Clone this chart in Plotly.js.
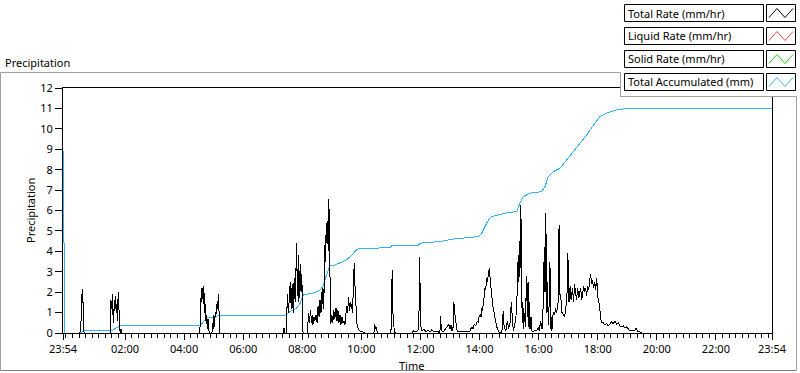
<!DOCTYPE html>
<html><head><meta charset="utf-8">
<script src="https://cdn.plot.ly/plotly-3.0.1.min.js"></script>
<style>html,body{margin:0;padding:0;background:#fff;}#chart{width:800px;height:373px;}
#chart .scatterlayer path.js-line{shape-rendering:crispEdges;}</style>
</head><body><div id="chart"></div>
<script>
// time = minutes after 00:00 (axis starts 23:54 the day before = -6)
const totalRate = [
[-6,0],[28,0],[30,0.2],[31,1.4],[32,1.6],[33,2.15],[34,1.5],[35,1.5],[36,0.1],[37,0],
[90,0],[91,1.6],[93,1.2],[94,1.9],[95.5,0.9],[97,0.5],[98,1.6],[99.5,1.1],[101,1.8],[102,1.0],[103.5,1.4],[105,0.6],[106,2.0],[107.5,0.8],[109,0.2],[110,0],[112,0.2],[113,0.15],[114,0],
[270.5,0],[272,0.1],[273.5,1.7],[275,2.2],[276,1.5],[277.5,2.2],[279,1.4],[280,2.3],[281.5,1.0],[283,1.4],[284,0.6],[285.5,0.9],[287,0.2],[288.5,0.7],[290,0.2],[291,0],[296.5,0],[298,0.5],[299,0.2],[300.5,0.9],[302,0.3],[303,1.0],[304.5,0.8],[306,1.4],[307.5,1.2],[308.5,1.5],[310,1.9],[311.5,0.5],[312,0],
[441.5,0],[443,0.25],[445,0],[448,0],[449.5,1.9],[451.5,1.0],[453.5,1.6],[455.5,2.5],[457.5,1.2],[459.5,2.4],[461.5,1.0],[463.5,2.7],[465.5,1.5],[467,3.2],[468.5,4.4],[470,1.8],[472,3.8],[473,1.5],[474.5,2.2],[476,3.4],[477.5,2.0],[478.5,2.9],[480,2.0],[481.5,0],
[490,0],[491.5,0.8],[493,1.0],[494,0.5],[495.5,0.7],[497,1.1],[498.5,0.5],[500,0.9],[501.5,0.4],[503.5,0.8],[505.5,0.6],[508,0.9],[510,0.5],[512,1.3],[514,0.8],[516,1.6],[518,1.0],[519.5,2.0],[520.5,1.4],[522,2.2],[523.5,1.2],[524.5,2.7],[526,4.3],[527.5,3.5],[528.5,5.4],[530,4.4],[531.5,5.5],[532.5,4.0],[534,6.55],[535.5,3.8],[537,0.85],[538,0.45],[540,0.9],[542,0.5],[544,1.1],[546,0.7],[548.5,1.2],[550.5,0.6],[552.5,1.1],[554.5,0.5],[556.5,0.9],[558.5,0.4],[560.5,0.8],[562.5,0.5],[564.5,0.6],[566.5,0.4],[570,1.3],[572,1.0],[574,1.75],[576,1.1],[578,1.5],[580,1.35],[582,1.0],[583.5,2.1],[585.5,3.45],[587.5,2.0],[589,1.0],[591.5,0.3],[594,0.2],[597,0.1],[604,0.05],[607,0],
[625.5,0],[627,0.45],[628.5,0.2],[630.5,0.3],[632.5,0],
[660,0],[661.5,1.2],[662.5,3.1],[664,1.0],[665.5,0.2],[667,0.05],[669,0],
[703,0],[705.5,0.1],[711,0.05],[715.5,0.15],[717,0.8],[718,3.7],[719,2.0],[721,0.3],[723,0.1],[727,0.2],[731,0.05],[735,0.15],[739,0.05],[743,0.15],[747,0.05],[753.5,0.1],[759.5,0],[761,0.85],[762,0.3],[763.5,0.1],[766,0.05],[770,0.15],[774,0.3],[777,0.45],[780,0.2],[782,0.4],[784,0.1],[786.5,0.3],[788,1.5],[789.5,1.0],[792,0.5],[794.5,0.1],[799,0.05],[804,0.1],[810,0.05],[816,0.1],[820.5,0.1],
[824,0.3],[826.5,0.2],[829.5,0.45],[832.5,0.35],[835.5,0.6],[837.5,0.5],[839,0.8],[841,0.9],[843,0.8],[844.5,1.2],[846,1.1],[847.5,1.6],[849.5,1.8],[851,2.2],[852.5,2.1],[854.5,2.7],[856,2.5],[858,2.9],[860,3.2],[861,2.8],[862.5,2.4],[864.5,2.0],[866.5,1.4],[869.5,1.0],[872,0.6],[875,0.3],[878,0.1],[881.5,0],
[885,0.05],[886.5,0.3],[888,1.1],[890,0.3],[893.5,0.1],[896.5,0.6],[899,0.2],[902,0.5],[904.5,1.5],[906.5,0.4],[908.5,0.1],[911.5,0.4],[914,0.8],[916.5,2.0],[918.5,3.8],[920,2.5],[921.5,4.5],[922.5,3.2],[924,6.25],[925.5,2.0],[927,0.5],[928,1.5],[929.5,0.2],[931,1.0],[933,0.3],[935.5,2.8],[937,0.8],[938.5,2.5],[940,0.3],[941,1.5],[942.5,0.2],[944.5,0.8],[946.5,0.1],[949,0.05],[952.5,0.15],[956,0.1],[959.5,0.3],[961.5,0.1],[964,0.6],[967,0.2],
[969.5,1.5],[971.5,4.2],[973,2.0],[974.5,5.9],[975.5,3.0],[977,1.0],[978.5,2.5],[979.5,0.4],[981.5,1.5],[983,3.5],[984.5,0.2],[985.5,0.8],[987,0.1],[988.5,0.8],[990.5,1.0],[992.5,0.9],[994.5,1.2],[996.5,1.0],[998.5,1.3],[1000,1.6],[1001.5,5.3],[1003.5,1.8],[1005.5,1.6],[1007.5,1.0],[1010,0.9],[1013,0.8],[1015.5,1.3],[1017.5,1.8],[1019.5,3.9],[1021,1.5],[1022,2.2],[1023.5,1.5],[1025,2.3],[1027,1.6],[1029,2.2],[1031,1.5],[1033,2.4],[1035,2.0],[1037,1.6],[1039.5,2.2],[1041.5,1.7],[1043.5,2.0],[1045.5,2.2],[1047.5,1.6],[1049.5,2.1],[1051.5,2.3],[1053.5,2.0],[1055.5,2.2],[1057.5,1.8],[1059.5,2.3],[1061.5,2.1],[1063.5,2.6],[1065.5,2.9],[1067.5,2.4],[1069.5,2.6],[1071.5,2.2],[1074,2.5],[1076,2.1],[1078,2.7],[1080,1.8],[1082,1.6],[1084,1.2],[1085,0.8],[1087,0.6],[1089,0.5],[1091,0.5],[1094.5,0.4],[1098,0.45],[1101.5,0.35],[1105,0.45],[1108.5,0.55],[1111.5,0.45],[1115,0.6],[1118.5,0.4],[1121.5,0.5],[1125,0.35],[1128.5,0.3],[1132,0.35],[1135.5,0.25],[1139,0.3],[1142,0.2],[1145.5,0.1],[1152,0.1],[1155.5,0.15],[1157.5,0.25],[1160.5,0.1],[1166,0.05],[1169,0],[1434,0]
];
const totalAccum = [
[-6,9],[-2,0],[28,0],[37,0.1],[91,0.1],[96,0.15],[102,0.25],[110,0.35],[272,0.35],[278,0.5],[286,0.75],[303,0.75],[309,0.88],
[445,0.88],[455,1.05],[468.5,1.22],[475.5,1.45],[482,1.86],[495.5,1.92],[505.5,1.98],[516,2.1],[522,2.3],[528,2.75],[536,3.28],[546,3.33],[556.5,3.45],[570,3.58],[580,3.8],[585,3.95],[591.5,4.1],[597,4.15],[658,4.17],[663,4.3],[716,4.3],[719,4.4],
[759.5,4.48],[786.5,4.6],[814,4.67],[837.5,4.72],[844.5,4.9],[851,5.2],[858,5.54],[864.5,5.7],[875,5.78],[891.5,5.87],[915.5,5.95],[922,6.36],[929,6.68],[942.5,6.85],[966,6.92],[973,7.17],[979.5,7.66],[989.5,7.9],[1003.5,8.07],[1017,8.48],[1037,9.13],[1057.5,9.7],[1074.5,10.28],[1084.5,10.6],[1098,10.77],[1118.5,10.93],[1139,11.0],[1434,11.0]
];
const tickMinutes = [-6,120,240,360,480,600,720,840,960,1080,1200,1320,1434];
const tickLabels = ['23:54','02:00','04:00','06:00','08:00','10:00','12:00','14:00','16:00','18:00','20:00','22:00','23:54'];
const legendLabels = ['Total Rate (mm/hr)','Liquid Rate (mm/hr)','Solid Rate (mm/hr)','Total Accumulated (mm)'];
const legendColors = ['#000000','#ff4040','#20d020','#33b4f0'];
const chartTitle = 'Precipitation';
const yTitle = 'Precipitation';
const xTitle = 'Time';

// pixel -> paper helpers (plot area 63..772 x 88..333)
const L=63, R=772, T=88, B=333;
const PX = x => (x-L)/(R-L);
const PY = y => (B-y)/(B-T);
const FONT = 'Noto Sans, Open Sans, sans-serif';

const traces = [
  {x: totalAccum.map(p=>p[0]), y: totalAccum.map(p=>p[1]), type:'scatter', mode:'lines',
   line:{color:legendColors[3], width:1}, hoverinfo:'skip'},
  {x: totalRate.map(p=>p[0]), y: totalRate.map(p=>p[1]), type:'scatter', mode:'lines',
   line:{color:legendColors[0], width:1}, hoverinfo:'skip'}
];

const shapes = [];
const annotations = [];
const line = (x0,y0,x1,y1,color) => shapes.push({type:'line', xref:'paper', yref:'paper',
  x0:PX(x0), y0:PY(y0), x1:PX(x1), y1:PY(y1), line:{color:color, width:1}, layer:'above'});
// outer frame
const frameGrey = '#a0a0a0';
line(0.5,72.5,620.5,72.5,frameGrey);
line(0.5,72.5,0.5,370.5,frameGrey);
line(0.5,370.5,796.5,370.5,'#808080');
line(796.5,96.5,796.5,370.5,frameGrey);
// legend panel (covers top frame of plot)
shapes.push({type:'rect', xref:'paper', yref:'paper', x0:PX(620.5), x1:PX(800), y0:PY(0), y1:PY(96.5),
  fillcolor:'#ffffff', line:{width:0}, layer:'above'});
line(620.5,72.5,620.5,96.5,frameGrey);
line(620.5,96.5,796.5,96.5,frameGrey);
legendLabels.forEach((lab,i)=>{
  const top = 4.5 + i*23, bot = top + 17;
  shapes.push({type:'rect', xref:'paper', yref:'paper', x0:PX(624.5), x1:PX(763.5), y0:PY(bot), y1:PY(top),
    fillcolor:'#ffffff', line:{color:'#000', width:1}, layer:'above'});
  shapes.push({type:'rect', xref:'paper', yref:'paper', x0:PX(766.5), x1:PX(795.5), y0:PY(bot), y1:PY(top),
    fillcolor:'#ffffff', line:{color:'#000', width:1}, layer:'above'});
  const yb = bot-4, yt = top+4;
  const pts = [[769,yb],[777,yt],[785,yb],[793,yt]];
  shapes.push({type:'path', xref:'paper', yref:'paper', layer:'above',
    path: pts.map((p,k)=>(k?'L':'M')+PX(p[0])+','+PY(p[1])).join(' '),
    line:{color:legendColors[i], width:1}});
  annotations.push({xref:'paper', yref:'paper', x:PX(626), y:PY((top+bot)/2), xanchor:'left', yanchor:'middle',
    text:lab, showarrow:false, font:{family:FONT, size:11, color:'#000'}});
});
annotations.push({xref:'paper', yref:'paper', x:PX(3), y:PY(62), xanchor:'left', yanchor:'middle',
  text:chartTitle, showarrow:false, font:{family:FONT, size:11, color:'#000'}});
annotations.push({xref:'paper', yref:'paper', x:PX(30.5), y:PY(210.5), xanchor:'center', yanchor:'middle',
  text:yTitle, textangle:-90, showarrow:false, font:{family:FONT, size:11, color:'#000'}});
annotations.push({xref:'paper', yref:'paper', x:PX(411.5), y:PY(365.5), xanchor:'center', yanchor:'middle',
  text:xTitle, showarrow:false, font:{family:FONT, size:11, color:'#000'}});

const layout = {
  width:800, height:373, margin:{l:63, r:28, t:88, b:40, pad:0},
  paper_bgcolor:'#ffffff', plot_bgcolor:'#ffffff', showlegend:false,
  font:{family:FONT, size:11, color:'#000'},
  xaxis:{range:[-6,1434], tickmode:'array', tickvals:tickMinutes, ticktext:tickLabels,
    ticks:'outside', ticklen:6, tickcolor:'#000', tickwidth:1,
    showline:true, linecolor:'#000', linewidth:1, mirror:true, showgrid:false, zeroline:false,
    tickfont:{family:FONT, size:11, color:'#000'},
    minor:{tickmode:'linear', tick0:0, dtick:40/3, ticks:'outside', ticklen:4, tickcolor:'#000', tickwidth:1, showgrid:false}},
  yaxis:{range:[0,12], tickmode:'linear', tick0:0, dtick:1,
    ticks:'outside', ticklen:7, tickcolor:'#000', tickwidth:1,
    showline:true, linecolor:'#000', linewidth:1, mirror:true, showgrid:false, zeroline:false,
    tickfont:{family:FONT, size:11, color:'#000'}},
  shapes:shapes, annotations:annotations
};
Plotly.newPlot('chart', traces, layout, {staticPlot:true, displayModeBar:false});
</script></body></html>
